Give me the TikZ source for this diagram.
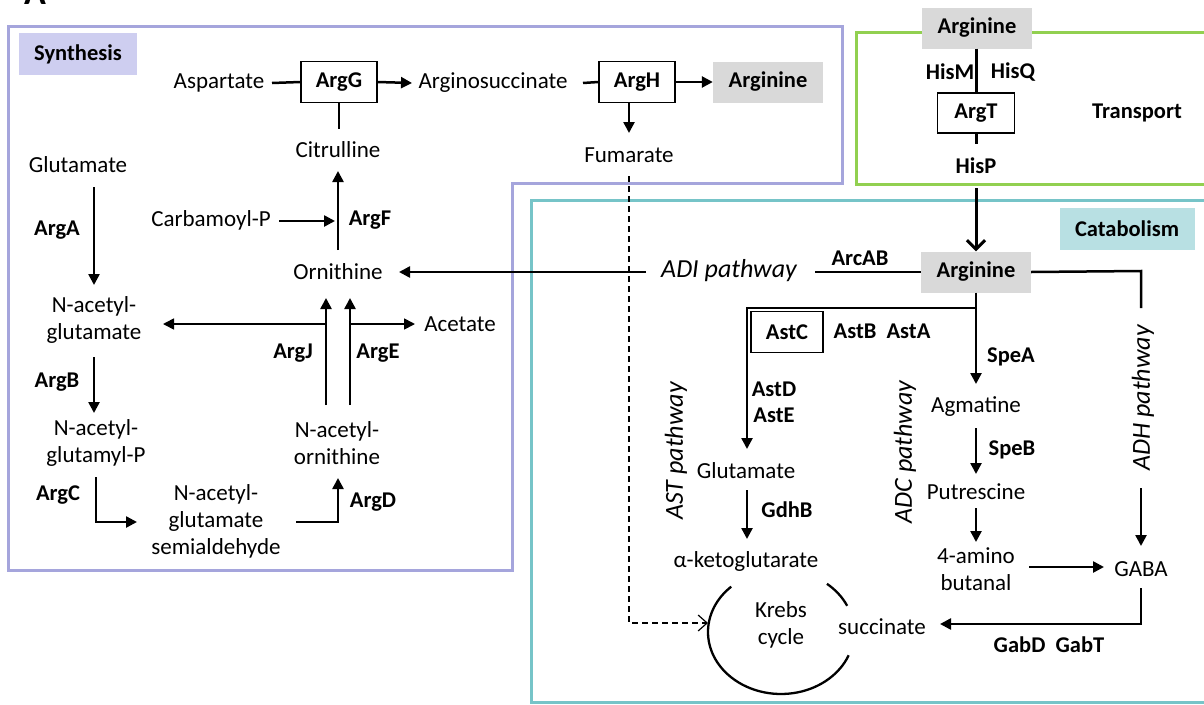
\documentclass[tikz,border=0pt]{standalone}
\usepackage{fontspec}
\setmainfont{Carlito}
\usetikzlibrary{arrows.meta}
\definecolor{synline}{RGB}{165,165,220}
\definecolor{synfill}{RGB}{206,206,240}
\definecolor{catline}{RGB}{118,196,200}
\definecolor{catfill}{RGB}{184,224,227}
\definecolor{trline}{RGB}{146,208,80}
\definecolor{argfill}{RGB}{217,217,217}
\tikzset{
  every node/.style={font=\fontsize{23}{27}\selectfont, inner sep=2pt},
  txt/.style={align=center},
  enz/.style={font=\fontsize{22.5}{27}\selectfont\bfseries},
  itl/.style={font=\fontsize{26}{30}\selectfont\itshape},
  enzbox/.style={draw, line width=1.3pt, minimum width=76pt, minimum height=41pt, inner sep=0pt, font=\fontsize{22.5}{27}\selectfont\bfseries},
  argbox/.style={fill=argfill, minimum width=110pt, minimum height=41pt, inner sep=0pt, font=\fontsize{22.5}{27}\selectfont\bfseries},
  ln/.style={line width=2.5pt},
  thinln/.style={line width=1.7pt},
  arr/.style={line width=2.5pt, -{Triangle[length=11pt,width=11pt]}},
  thinarr/.style={line width=1.7pt, -{Triangle[length=11pt,width=11pt]}},
  frame/.style={line width=3pt},
}
\begin{document}
\begin{tikzpicture}[x=1pt,y=-1pt]
\useasboundingbox (0,0) rectangle (1204,704);
% panel letter (cut off at top)
\node[anchor=base, font=\fontsize{36}{40}\selectfont\bfseries] (panelA) at (35,5) {A};

% frames
\draw[frame, synline] (8,26) -- (842,26) -- (842,183) -- (512,183) -- (512,570) -- (8,570) -- cycle;
\draw[frame, trline] (856,32) rectangle (1215,184);
\draw[frame, catline] (531,200) rectangle (1215,702);
\node[fill=synfill, minimum width=118pt, minimum height=42pt, enz] (synlab) at (78,54) {Synthesis};
\node[fill=catfill, minimum width=135pt, minimum height=42pt, enz] (catlab) at (1127,229) {Catabolism};

% ---------- synthesis ----------
\node[txt] (asp) at (219,83) {Aspartate};
\node[enzbox] (argG) at (339,82) {ArgG};
\node[txt] (argsuc) at (493,83) {Arginosuccinate};
\node[enzbox] (argH) at (637,82) {ArgH};
\node[argbox] (argS) at (768,82) {Arginine};
\node[txt] (cit) at (338,150) {Citrulline};
\node[txt] (fum) at (629,155) {Fumarate};
\node[txt] (glu) at (78,165) {Glutamate};
\node[enz] (argA) at (57,230) {ArgA};
\node[txt] (carb) at (211,220) {Carbamoyl-P};
\node[enz] (argF) at (370,220) {ArgF};
\node[txt] (orn) at (338,272) {Ornithine};
\node[txt] (nag) at (94,320) {N-acetyl-\\glutamate};
\node[enz] (argB) at (57,382) {ArgB};
\node[txt] (nagp) at (96,443) {N-acetyl-\\glutamyl-P};
\node[enz] (argC) at (58,495) {ArgC};
\node[txt] (nags) at (216,521) {N-acetyl-\\glutamate\\semialdehyde};
\node[enz] (argD) at (373,502) {ArgD};
\node[txt] (nao) at (337,443) {N-acetyl-\\ornithine};
\node[enz] (argJ) at (293,353) {ArgJ};
\node[enz] (argE) at (378,353) {ArgE};
\node[txt] (acet) at (460,324) {Acetate};

\coordinate (aspE) at (272,83);
\draw[ln] (aspE) -- (argG.west);
\draw[ln] (argG.south) -- ++(0,26) coordinate (citN);
\draw[arr] (argG.east) -- (412,83) coordinate (asucW);
\draw[ln] (583,83) coordinate (asucE) -- (argH.west);
\draw[arr] (argH.east) -- (argS.west);
\draw[arr] (629,102) coordinate (argHs) -- (629,133) coordinate (fumN);
\draw[arr] (94,187) coordinate (gluS) -- (94,285) coordinate (nagN);
\draw[arr] (94,357) coordinate (nagS) -- (94,413) coordinate (nagpN);
\draw[arr] (96,477) coordinate (nagpS) -- (96,522) -- (137,522) coordinate (nagsW);
\draw[arr] (296,522) coordinate (nagsE) -- (338,522) -- (338,478) coordinate (naoN);
\draw[arr] (326,405) coordinate (jS) -- (326,298) coordinate (ornSj);
\draw[arr] (350,405) coordinate (eS) -- (350,298) coordinate (ornSe);
\draw[thinarr] (326,324) -- (163,324) coordinate (nagE);
\draw[thinarr] (350,324) -- (415,324) coordinate (acetW);
\draw[arr] (338,250) coordinate (ornN) -- (338,171) coordinate (citS);
\draw[arr] (279,221) coordinate (carbE) -- (335,221);

% ---------- transport ----------
\node[argbox] (argT1) at (977,28) {Arginine};
\node[enz] (hisM) at (950,72) {HisM};
\node[enz] (hisQ) at (1013,72) {HisQ};
\node[enzbox, minimum width=77pt, minimum height=40pt] (argT) at (976,113) {ArgT};
\node[enz] (hisP) at (976,166) {HisP};
\node[enz] (transp) at (1137,113) {Transport};
\draw[line width=3pt] (argT1.south -| argT.north) -- (argT.north);
\draw[line width=3pt] (argT.south) -- (976,144) coordinate (hisPN);

% ---------- catabolism ----------
\node[argbox] (argC1) at (976,272) {Arginine};
\draw[line width=3pt, -{Straight Barb[length=9pt,width=18pt]}] (976,188) coordinate (hisPS) -- (argC1.north);
\node[itl] (adi) at (729,271) {ADI pathway};
\node[enz] (arcAB) at (860,258) {ArcAB};
\draw[ln] (argC1.west) -- (815,272) coordinate (adiE);
\draw[arr] (646,272) coordinate (adiW) -- (399,272) coordinate (ornE);

\node[enzbox, minimum width=72pt, minimum height=41pt] (astC) at (787,332) {AstC};
\node[enz] (astBA) at (882,331) {AstB\ \ AstA};
\node[enz] (astD) at (774,389) {AstD};
\node[enz] (astE) at (774,415) {AstE};
\node[itl, rotate=90] (astp) at (676,451) {AST pathway};
\node[itl, rotate=90] (adcp) at (905,452) {ADC pathway};
\node[itl, rotate=90] (adhp) at (1143,398) {ADH pathway};
\node[txt] (glu2) at (746,471) {Glutamate};
\node[enz] (gdhB) at (787,510) {GdhB};
\node[txt] (akg) at (746,561) {α-ketoglutarate};
\node[txt] (krebs) at (781,625) {Krebs\\cycle};
\node[txt] (succ) at (882,627) {succinate};
\node[enz] (spea) at (1011,357) {SpeA};
\node[txt] (agm) at (976,407) {Agmatine};
\node[enz] (speb) at (1012,450) {SpeB};
\node[txt] (put) at (976,492) {Putrescine};
\node[txt] (amb) at (976,569) {4-amino\\butanal};
\node[txt] (gaba) at (1141,569) {GABA};
\node[enz] (gab) at (1049,645) {GabD\ \ GabT};

\coordinate (br) at (976,308);
\draw[ln] (argC1.south) -- (br);
\draw[arr] (br) -- (747,308) -- (747,449) coordinate (glu2N);
\draw[arr] (br) -- (976,384) coordinate (agmN);
\draw[ln] (argC1.east) -- (1141,271) -- (1141,308) coordinate (adhT);
\draw[arr] (1141,488) coordinate (adhB) -- (1141,546) coordinate (gabaN);
\draw[arr] (976,428) coordinate (agmS) -- (976,474) coordinate (putN);
\draw[arr] (976,508) coordinate (putS) -- (976,542) coordinate (ambN);
\draw[arr] (1029,567) coordinate (ambE) -- (1104,567) coordinate (gabaW);
\draw[arr] (1141,588) coordinate (gabaS) -- (1141,624) -- (940,624) coordinate (succE);
\draw[arr] (747,490) coordinate (glu2S) -- (747,539) coordinate (akgN);

% Krebs cycle arcs (angles in page orientation, y up)
\coordinate (kc) at (781,632);
\draw[line width=2.3pt] (kc) ++(133:73pt and 62pt) arc[start angle=133, end angle=338, x radius=73pt, y radius=62pt];
\draw[line width=2.3pt] (kc) ++(51:73pt and 62pt) arc[start angle=51, end angle=25, x radius=73pt, y radius=62pt];

% dashed fumarate link
\coordinate (kW) at (708,623);
\draw[line width=1.2pt, dash pattern=on 6pt off 4pt, -{Straight Barb[length=9pt,width=16pt]}] (629,176) coordinate (fumS) -- (629,623) -- (kW);
\end{tikzpicture}
\end{document}
